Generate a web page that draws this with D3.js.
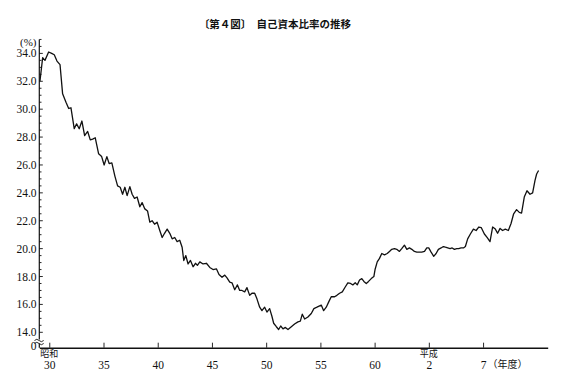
<!DOCTYPE html>
<html><head><meta charset="utf-8">
<script src="https://cdn.jsdelivr.net/npm/d3@7"></script>
<style>
html,body{margin:0;padding:0;background:#fff;}
svg{display:block;}
</style></head>
<body>
<script>
// Fiscal year expressed in Showa years (昭和), 平成2 = 65, 平成7 = 70
const fiscalYear = [29.14,29.39,29.60,29.94,30.22,30.46,30.71,30.99,31.23,31.54,31.79,32.00,32.30,32.52,32.76,33.01,33.26,33.54,33.78,34.00,34.24,34.55,34.83,35.06,35.31,35.52,35.77,36.05,36.30,36.54,36.76,36.97,37.18,37.43,37.64,37.86,38.10,38.35,38.56,38.81,39.06,39.27,39.48,39.71,39.94,40.19,40.41,40.63,40.87,41.11,41.33,41.57,41.79,42.03,42.25,42.40,42.59,42.80,43.02,43.26,43.48,43.66,43.88,44.18,44.49,44.80,45.10,45.41,45.65,45.93,46.18,46.39,46.64,46.85,47.10,47.35,47.56,47.77,48.02,48.23,48.48,48.69,48.94,49.15,49.40,49.61,49.86,50.07,50.32,50.53,50.69,50.94,51.15,51.34,51.55,51.77,52.01,52.32,52.62,52.93,53.15,53.33,53.55,53.85,54.16,54.40,54.68,54.93,55.08,55.30,55.54,55.78,56.00,56.31,56.52,56.77,57.02,57.29,57.53,57.78,57.99,58.21,58.40,58.61,58.82,59.01,59.23,59.44,59.69,59.93,60.04,60.24,60.45,60.66,60.91,61.16,61.37,61.58,61.83,62.04,62.29,62.50,62.75,62.97,63.21,63.43,63.67,63.89,64.13,64.35,64.60,64.81,64.99,65.21,65.45,65.67,65.88,66.13,66.34,66.53,66.74,66.96,67.15,67.36,67.57,67.75,67.97,68.19,68.37,68.58,68.83,69.11,69.36,69.60,69.84,70.12,70.37,70.64,70.88,71.13,71.34,71.57,71.80,72.05,72.33,72.58,72.82,73.09,73.34,73.55,73.80,74.05,74.33,74.57,74.79,74.94,75.12];
const equityRatio = [32.0,33.7,33.5,34.1,34.0,33.9,33.45,33.2,31.1,30.5,30.05,30.1,28.6,28.95,28.6,29.15,28.1,28.4,27.8,27.85,27.95,26.8,26.6,26.0,26.6,26.1,26.15,25.2,24.5,24.4,23.9,24.4,23.8,24.45,23.9,23.6,23.7,23.0,23.3,22.85,22.7,21.9,22.0,21.75,21.9,21.3,20.8,21.1,21.4,21.1,20.7,20.8,20.5,20.6,20.1,19.15,19.5,18.9,19.15,18.7,18.95,18.8,19.05,18.9,18.95,18.65,18.5,18.55,18.15,17.95,18.1,17.9,17.6,17.55,17.05,17.4,17.0,17.0,16.9,17.2,16.65,16.8,16.8,16.4,15.8,15.55,15.8,15.45,15.7,15.15,14.65,14.4,14.2,14.45,14.25,14.35,14.2,14.4,14.6,14.75,14.8,15.3,14.95,15.1,15.35,15.7,15.8,15.9,15.95,15.55,15.8,16.2,16.55,16.55,16.65,16.8,16.9,17.25,17.55,17.5,17.4,17.55,17.4,17.75,17.85,17.65,17.5,17.65,17.85,18.0,18.5,19.05,19.3,19.65,19.55,19.65,19.8,19.95,20.0,19.95,19.8,20.0,20.25,19.95,20.05,19.95,19.8,19.75,19.75,19.75,19.8,20.05,20.05,19.75,19.45,19.65,19.95,20.05,20.15,20.1,20.05,20.0,20.05,19.95,20.0,20.0,20.05,20.05,20.15,20.7,21.05,21.4,21.3,21.55,21.5,21.05,20.8,20.5,21.55,21.4,21.1,21.45,21.3,21.4,21.3,21.8,22.5,22.8,22.6,22.55,23.7,24.15,23.9,24.0,24.9,25.35,25.6];
const xTickValues = [30,35,40,45,50,55,60,65,70];
const xTickLabels = ["30","35","40","45","50","55","60","2","7"];
const eraLabels = [{at:30,text:"昭和"},{at:65,text:"平成"}];
const yMajorTicks = [14,16,18,20,22,24,26,28,30,32,34];
const yMinorTicks = d3.range(14,35.01,0.5);
const titleText = "〔第４図〕　自己資本比率の推移";
const unitText = "(%)";
const yearUnitText = "（年度）";

const W = 564, H = 385;
const serif = "'Liberation Serif','DejaVu Serif',serif";
const cjk = "'Noto Sans CJK JP','Noto Sans CJK SC',sans-serif";

const svg = d3.select("body").append("svg").attr("width",W).attr("height",H);

const x = d3.scaleLinear().domain([29.08, 75.96]).range([39.3, 547.7]);
const y = d3.scaleLinear().domain([14, 34]).range([332.3, 53.4]);
const axisY = 347.7, axisX = 39.3;

// title
svg.append("text").attr("x",275).attr("y",28).attr("text-anchor","middle")
  .attr("font-family",cjk).attr("font-weight","bold").attr("font-size",10.5)
  .attr("fill","#111").text(titleText);

// y axis line (with break)
const g = svg.append("g").attr("stroke","#111").attr("fill","none");
g.append("line").attr("x1",axisX).attr("x2",axisX).attr("y1",y(35)).attr("y2",339.5).attr("stroke-width",1.2);
g.append("line").attr("x1",axisX).attr("x2",axisX).attr("y1",343.5).attr("y2",axisY).attr("stroke-width",1.2);
// break marks
g.append("path").attr("d",`M34.5,340.5 q2.3,-2.4 4.6,0 t4.6,0`).attr("stroke-width",0.9);
g.append("path").attr("d",`M34.5,343.5 q2.3,-2.4 4.6,0 t4.6,0`).attr("stroke-width",0.9);

// y ticks
g.selectAll(".ymin").data(yMinorTicks).join("line")
  .attr("x1",axisX).attr("x2",d=> (Math.abs(d%2)<1e-6 ? axisX+3.5 : axisX+2.2))
  .attr("y1",d=>y(d)).attr("y2",d=>y(d)).attr("stroke-width",0.9);

svg.selectAll(".ylab").data(yMajorTicks).join("text")
  .attr("x",36.5).attr("y",d=>y(d)+4).attr("text-anchor","end")
  .attr("font-family",serif).attr("font-size",11.5).attr("fill","#111")
  .text(d=>d.toFixed(1));
svg.append("text").attr("x",36.5).attr("y",350).attr("text-anchor","end")
  .attr("font-family",serif).attr("font-size",11.5).attr("fill","#111").text("0");
svg.append("text").attr("x",36.5).attr("y",46).attr("text-anchor","end")
  .attr("font-family",serif).attr("font-size",11).attr("fill","#111").text(unitText);

// x axis
const xAxis = d3.axisBottom(x).tickValues(xTickValues).tickSize(-5).tickSizeOuter(0)
  .tickFormat((d,i)=>xTickLabels[i]);
const xg = svg.append("g").attr("transform",`translate(0,${axisY})`).call(xAxis);
xg.select(".domain").attr("stroke","#111").attr("stroke-width",1.5);
xg.selectAll(".tick line").attr("stroke","#111").attr("stroke-width",0.9);
xg.selectAll(".tick text").attr("font-family",serif).attr("font-size",11.5)
  .attr("fill","#111").attr("dy",0).attr("y",21);

svg.selectAll(".era").data(eraLabels).join("text")
  .attr("x",d=>x(d.at)).attr("y",357).attr("text-anchor","middle")
  .attr("font-family",cjk).attr("font-size",9).attr("fill","#111").text(d=>d.text);
svg.append("text").attr("x",x(70)+4.5).attr("y",368)
  .attr("font-family",cjk).attr("font-size",10).attr("fill","#111").text(yearUnitText);

// line
const pts = fiscalYear.map((f,i)=>[f,equityRatio[i]]);
svg.append("path").datum(pts)
  .attr("d",d3.line().x(d=>x(d[0])).y(d=>y(d[1])))
  .attr("fill","none").attr("stroke","#111").attr("stroke-width",1.3)
  .attr("stroke-linejoin","round");
</script>
</body></html>
